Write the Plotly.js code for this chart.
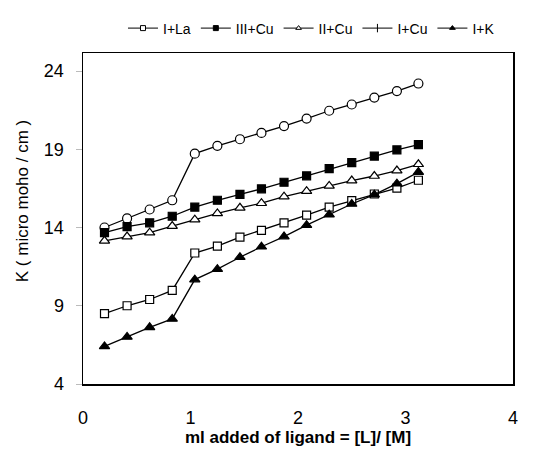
<!DOCTYPE html>
<html>
<head>
<meta charset="utf-8">
<script src="https://cdn.plot.ly/plotly-3.0.1.min.js"></script>
<style>html,body{margin:0;padding:0;background:#fff;}#chart{width:539px;height:454px;}</style>
</head>
<body>
<div id="chart"></div>
<script>
// x positions of the 15 measurements (ml added / ratio)
const xVals = [0.2, 0.41, 0.62, 0.83, 1.04, 1.25, 1.46, 1.66, 1.87, 2.08, 2.29, 2.5, 2.71, 2.92, 3.12];
// series values, K (micro moho / cm)
const openCircles   = [14.0, 14.58, 15.15, 15.74, 18.72, 19.22, 19.64, 20.04, 20.48, 20.96, 21.46, 21.86, 22.30, 22.72, 23.2];
const filledSquares = [13.67, 14.06, 14.3, 14.72, 15.3, 15.74, 16.12, 16.47, 16.89, 17.3, 17.76, 18.14, 18.56, 18.96, 19.3];
const openTriangles = [13.15, 13.42, 13.67, 14.09, 14.5, 14.9, 15.26, 15.55, 15.97, 16.32, 16.66, 17.0, 17.29, 17.64, 18.04];
const openSquares   = [8.5, 9.0, 9.4, 9.98, 12.37, 12.81, 13.38, 13.82, 14.3, 14.79, 15.3, 15.72, 16.14, 16.52, 17.02];
const filledTris    = [6.4, 7.01, 7.62, 8.16, 10.67, 11.34, 12.1, 12.77, 13.42, 14.15, 14.82, 15.5, 16.1, 16.8, 17.54];
// legend labels as printed
const legendNames = ["I+La", "III+Cu", "II+Cu", "I+Cu", "I+K"];
const legendSymbols = ["square-open", "square", "triangle-up-open", "line-ns-open", "triangle-up"];
const yTicks = [4, 9, 14, 19, 24];
const xTicks = [0, 1, 2, 3, 4];
const xTitle = 'ml added of ligand = [L]/ [M]';
const yTitle = 'K ( micro moho / cm )';

const lineStyle = {color: '#000', width: 1.3};
function dataTrace(y, symbol, size) {
  const open = symbol.indexOf('open') >= 0;
  return {
    x: xVals, y: y, type: 'scatter', mode: 'lines+markers', showlegend: false,
    line: lineStyle,
    marker: {symbol: open ? symbol.replace('-open','') : symbol, size: size,
             color: open ? '#fff' : '#000', line: {color: '#000', width: 1.2}}
  };
}
const traces = [
  dataTrace(openCircles, 'circle-open', 9),
  dataTrace(filledSquares, 'square', 8),
  dataTrace(openTriangles, 'triangle-up-open', 9),
  dataTrace(openSquares, 'square-open', 8),
  dataTrace(filledTris, 'triangle-up', 9)
];
legendNames.forEach((n, i) => {
  const s = legendSymbols[i];
  const open = s.indexOf('open') >= 0 && s !== 'line-ns-open';
  traces.push({
    x: [null], y: [null], type: 'scatter', mode: 'lines+markers', name: n,
    line: {color: '#000', width: 1},
    marker: {symbol: s === 'line-ns-open' ? 'line-ns-open' : (open ? s.replace('-open','') : s),
             size: s === 'line-ns-open' ? 6 : 5,
             color: open ? '#fff' : '#000', line: {color: '#000', width: 1}}
  });
});

const layout = {
  width: 539, height: 454,
  margin: {l: 83, r: 26, t: 47, b: 70},
  paper_bgcolor: '#fff', plot_bgcolor: '#fff',
  font: {family: 'Arial, Liberation Sans, sans-serif', color: '#000'},
  xaxis: {
    range: [0, 4], tickvals: xTicks, ticktext: xTicks.map(String),
    showgrid: false, zeroline: false, showline: true, mirror: true,
    linecolor: '#000', linewidth: 1.5, ticks: '', ticklabelstandoff: 17,
    tickfont: {size: 18},
    title: {text: '<b>' + xTitle + '</b>', font: {size: 17}, standoff: 4}
  },
  yaxis: {
    range: [4, 25.15], tickvals: yTicks, ticktext: yTicks.map(String),
    showgrid: false, zeroline: false, showline: true, mirror: true,
    linecolor: '#000', linewidth: 1.5, ticks: 'outside', ticklen: 6,
    tickcolor: '#bbb', ticklabelstandoff: 8,
    tickfont: {size: 18}
  },
  annotations: [{
    text: yTitle, textangle: -90, showarrow: false,
    xref: 'paper', yref: 'paper', x: -0.142, y: 0.552,
    xanchor: 'center', yanchor: 'middle', font: {size: 17}
  }],
  legend: {
    orientation: 'h', x: 0.093, xanchor: 'left', y: 1.074, yanchor: 'middle',
    font: {size: 14}, bgcolor: 'rgba(0,0,0,0)', itemwidth: 30, traceorder: 'normal'
  },
  showlegend: true
};
Plotly.newPlot('chart', traces, layout, {displayModeBar: false, staticPlot: true});
</script>
</body>
</html>
